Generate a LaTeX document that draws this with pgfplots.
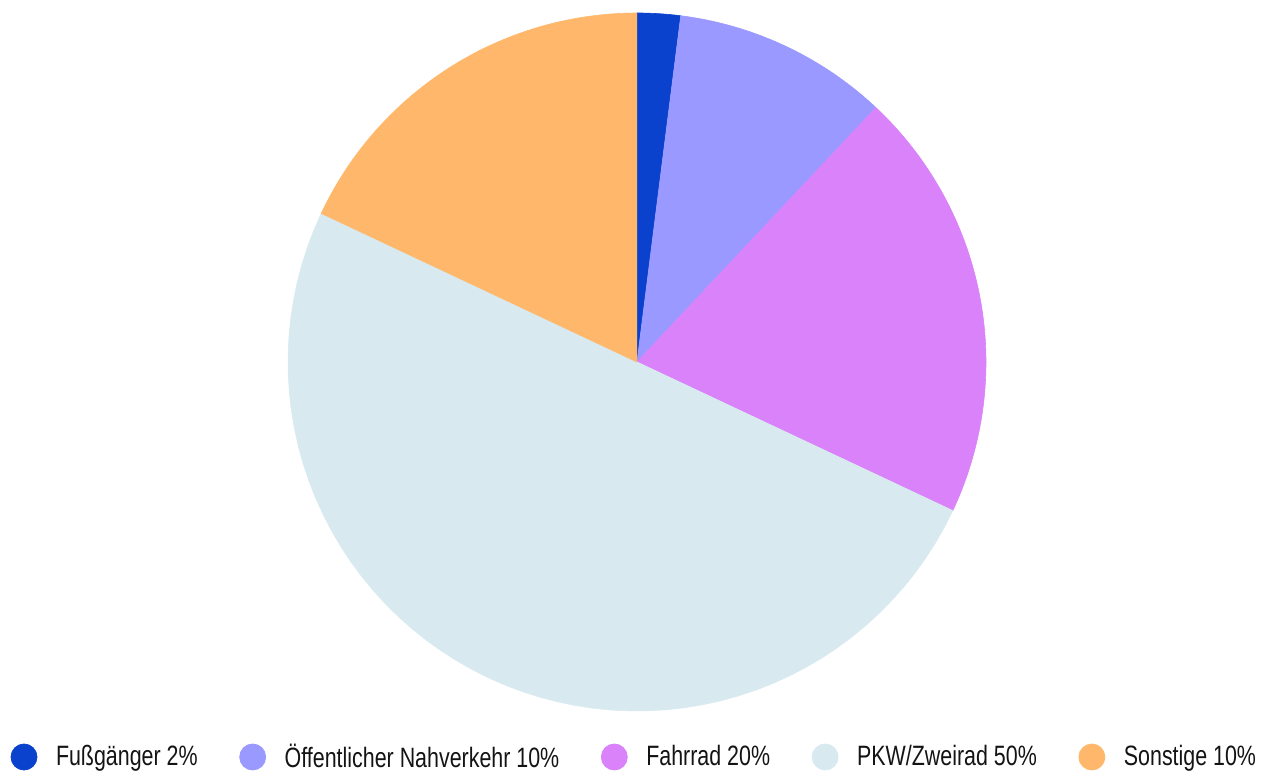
\documentclass[border=0pt]{standalone}
\usepackage{fontspec}
\setmainfont{Liberation Sans}[FakeStretch=0.765]
\usepackage{pgfplots}
\pgfplotsset{compat=1.18}
\definecolor{cFuss}{RGB}{10,66,206}
\definecolor{cOeff}{RGB}{153,153,255}
\definecolor{cRad}{RGB}{217,130,250}
\definecolor{cPkw}{RGB}{216,234,240}
\definecolor{cSonst}{RGB}{255,184,107}
% slice: cumulative percent start, cumulative percent end, colour
\newcommand\slice[3]{%
\addplot[forget plot, fill=#3, draw=#3, line width=0.3pt, samples at={-1,0,1,...,60}, variable=\t]
 ({ifthenelse(\t<0,637,637+349*cos(90-3.6*(#1+(#2-#1)*\t/60)))},
  {ifthenelse(\t<0,407,407+349*sin(90-3.6*(#1+(#2-#1)*\t/60)))});
}
\begin{document}
\begin{tikzpicture}
\begin{axis}[
  scale only axis, width=636.5pt, height=384.5pt,
  xmin=0, xmax=1273, ymin=0, ymax=769,
  hide axis, clip=false,
  legend columns=5,
  legend style={draw=none, fill=none, inner sep=0pt, outer sep=0pt,
    at={(axis cs:11,12)}, anchor=west,
    font=\fontsize{14pt}{16pt}\selectfont\color{black!92},
    nodes={inner sep=0pt},
    /tikz/every odd column/.append style={column sep=9.5pt},
    /tikz/every even column/.append style={column sep=21pt}},
]
\addplot[forget plot, draw=none] coordinates {(0,0) (1273,769)};
\slice{0}{2}{cFuss}
\slice{2}{12}{cOeff}
\slice{12}{32}{cRad}
\slice{32}{82}{cPkw}
\slice{82}{100}{cSonst}
\addlegendimage{only marks, mark=*, mark size=6.5pt, color=cFuss}
\addlegendentry{Fußgänger 2\%}
\addlegendimage{only marks, mark=*, mark size=6.5pt, color=cOeff}
\addlegendentry{Öffentlicher Nahverkehr 10\%}
\addlegendimage{only marks, mark=*, mark size=6.5pt, color=cRad}
\addlegendentry{Fahrrad 20\%}
\addlegendimage{only marks, mark=*, mark size=6.5pt, color=cPkw}
\addlegendentry{PKW/Zweirad 50\%}
\addlegendimage{only marks, mark=*, mark size=6.5pt, color=cSonst}
\addlegendentry{Sonstige 10\%}
\end{axis}
\end{tikzpicture}
\end{document}
